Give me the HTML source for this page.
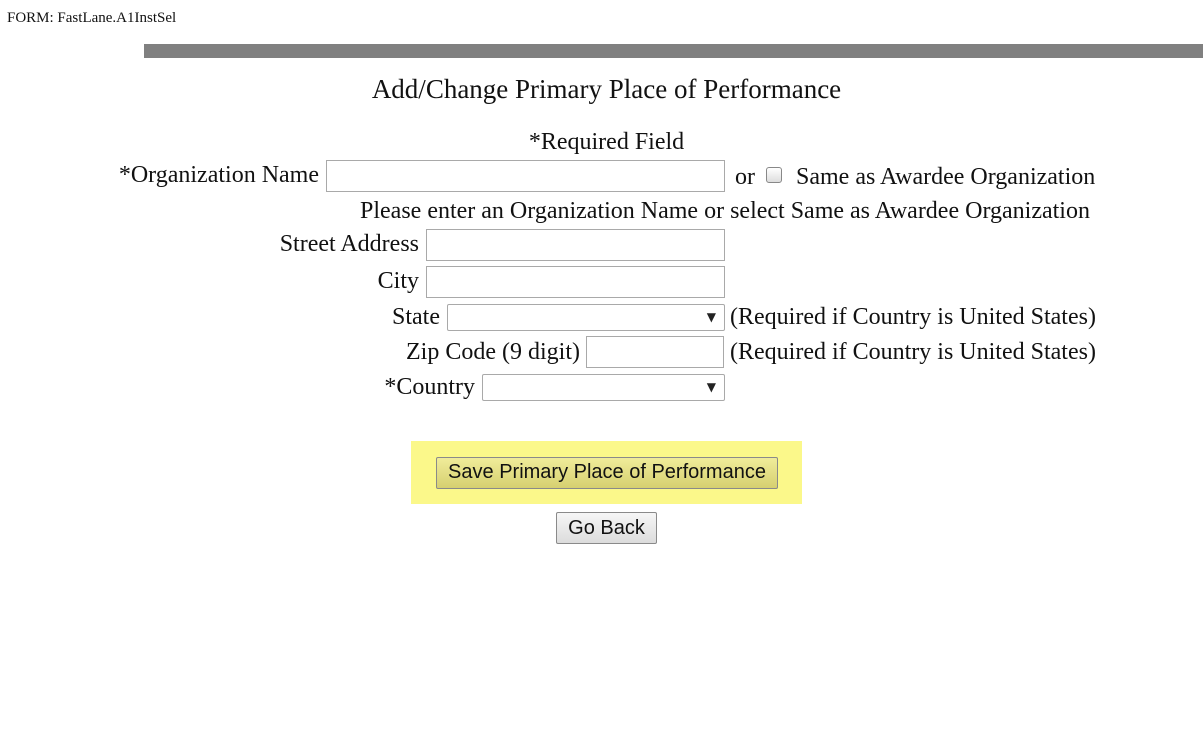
<!DOCTYPE html>
<html><head><meta charset="utf-8"><style>
body{margin:0;width:1203px;height:747px;background:#fff;position:relative;overflow:hidden;font-family:"Liberation Serif",serif;color:#111}
.t{position:absolute;font-size:24px;line-height:26px;white-space:nowrap}
.r{text-align:right}
.in{position:absolute;border:1px solid #a9a9a9;background:#fff;box-sizing:border-box}
.sel{position:absolute;border:1px solid #a9a9a9;background:#fff;box-sizing:border-box;border-radius:2px}
.sel:after{content:"▼";position:absolute;right:8px;top:5px;font-size:12px;font-family:"DejaVu Sans",sans-serif;color:#222}
.btn{position:absolute;box-sizing:border-box;border:1px solid #8a8a8a;border-radius:2px;font-family:"Liberation Sans",sans-serif;font-size:20px;text-align:center;color:#111}
</style></head><body>
<div class="t" style="left:7px;top:10px;font-size:15px;line-height:17px">FORM: FastLane.A1InstSel</div>
<div style="position:absolute;left:144px;top:44px;width:1059px;height:14px;background:#808080"></div>
<div class="t" style="left:0;width:1213px;text-align:center;top:74px;font-size:27px;line-height:30px">Add/Change Primary Place of Performance</div>
<div class="t" style="left:0;width:1213px;text-align:center;top:129px">*Required Field</div>
<div class="t r" style="left:0;width:319px;top:162px">*Organization Name</div>
<div class="in" style="left:326px;top:160px;width:399px;height:32px"></div>
<div class="t" style="left:735px;top:164px">or</div>
<div style="position:absolute;left:766px;top:167px;width:16px;height:16px;box-sizing:border-box;border:1px solid #888;border-radius:3px;background:linear-gradient(#fff,#ddd)"></div>
<div class="t" style="left:796px;top:164px">Same as Awardee Organization</div>
<div class="t" style="left:360px;top:198px">Please enter an Organization Name or select Same as Awardee Organization</div>
<div class="t r" style="left:0;width:419px;top:231px">Street Address</div>
<div class="in" style="left:426px;top:229px;width:299px;height:32px"></div>
<div class="t r" style="left:0;width:419px;top:268px">City</div>
<div class="in" style="left:426px;top:266px;width:299px;height:32px"></div>
<div class="t r" style="left:0;width:440px;top:304px">State</div>
<div class="sel" style="left:447px;top:304px;width:278px;height:27px"></div>
<div class="t" style="left:730px;top:304px">(Required if Country is United States)</div>
<div class="t r" style="left:0;width:580px;top:339px">Zip Code (9 digit)</div>
<div class="in" style="left:586px;top:336px;width:138px;height:32px"></div>
<div class="t" style="left:730px;top:339px">(Required if Country is United States)</div>
<div class="t r" style="left:0;width:475px;top:374px">*Country</div>
<div class="sel" style="left:482px;top:374px;width:243px;height:27px"></div>
<div style="position:absolute;left:411px;top:441px;width:391px;height:63px;background:#fbf88a"></div>
<div class="btn" style="left:436px;top:457px;width:342px;height:32px;line-height:29px;background:linear-gradient(#f0ec9a,#d6d070)">Save Primary Place of Performance</div>
<div class="btn" style="left:556px;top:512px;width:101px;height:32px;line-height:30px;background:linear-gradient(#f6f6f6,#dcdcdc)">Go Back</div>
</body></html>
